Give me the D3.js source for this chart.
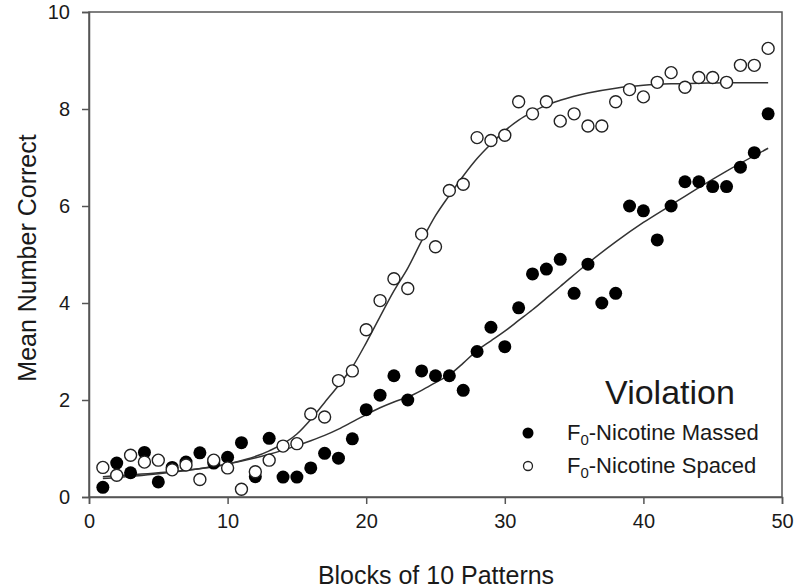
<!DOCTYPE html>
<html>
<head>
<meta charset="utf-8">
<script src="https://cdn.jsdelivr.net/npm/d3@7/dist/d3.min.js"></script>
<style>
  html, body { margin: 0; padding: 0; background: #fff; }
  svg { display: block; font-family: "Liberation Sans", Arial, sans-serif; }
</style>
</head>
<body>
<svg id="chart" width="800" height="588"></svg>
<script>
// ---- data ----
const blocks = d3.range(1, 50);
const massed = [0.2,0.7,0.5,0.92,0.31,0.61,0.72,0.91,0.7,0.82,1.12,0.42,1.21,0.41,0.41,0.6,0.9,0.8,1.2,
  1.8,2.1,2.5,2.0,2.6,2.5,2.5,2.2,3.0,3.5,3.1,3.9,4.6,4.7,4.9,4.2,4.8,4.0,4.2,6.0,5.9,5.3,6.0,6.5,6.5,6.4,6.4,6.8,7.1,7.9];
const spaced = [0.61,0.45,0.86,0.72,0.76,0.56,0.66,0.36,0.76,0.6,0.16,0.52,0.76,1.05,1.1,1.71,1.65,2.4,2.6,
  3.45,4.05,4.5,4.3,5.42,5.16,6.32,6.45,7.41,7.35,7.46,8.15,7.9,8.15,7.75,7.9,7.65,7.65,8.15,8.4,8.25,8.55,8.75,8.45,8.65,8.65,8.55,8.9,8.9,9.25];
// fitted curves
const fitX = [1,5,10,13,15,16,17,18,19,20,21,22,23,24,25,26,27,28,29,30,31,32,33,34,36,38,40,42,44,46,49];
const massedFit = [0.38,0.48,0.68,0.88,1.06,1.16,1.27,1.4,1.55,1.7,1.84,1.96,2.06,2.2,2.36,2.52,2.76,3.02,3.22,3.42,3.64,3.86,4.1,4.34,4.82,5.26,5.66,6.02,6.38,6.72,7.19];
const spacedFit = [0.42,0.5,0.68,0.95,1.3,1.6,1.95,2.3,2.68,3.18,3.72,4.25,4.72,5.28,5.8,6.22,6.62,6.98,7.28,7.55,7.77,7.94,8.08,8.18,8.33,8.43,8.49,8.52,8.53,8.54,8.54];
const xTicks = [0,10,20,30,40,50];
const yTicks = [0,2,4,6,8,10];
const legendItems = ["Massed", "Spaced"];

// ---- layout ----
const svg = d3.select("#chart");
const m = {left: 89, right: 782, top: 12, bottom: 497};
const x = d3.scaleLinear().domain([0, 50]).range([m.left, m.right]);
const y = d3.scaleLinear().domain([0, 10]).range([m.bottom, m.top]);
const axisColor = "#555";
const textColor = "#1a1a1a";

// frame
svg.append("rect")
  .attr("x", m.left).attr("y", m.top)
  .attr("width", m.right - m.left).attr("height", m.bottom - m.top)
  .attr("fill", "none").attr("stroke", axisColor).attr("stroke-width", 1.5);

// axes
const xAxis = svg.append("g").attr("transform", `translate(0,${m.bottom})`)
  .call(d3.axisBottom(x).tickValues(xTicks).tickSize(7).tickPadding(10));
const yAxis = svg.append("g").attr("transform", `translate(${m.left},0)`)
  .call(d3.axisLeft(y).tickValues(yTicks).tickSize(7).tickPadding(12));
[xAxis, yAxis].forEach(g => {
  g.select(".domain").attr("stroke", axisColor).attr("stroke-width", 1.5);
  g.selectAll(".tick line").attr("stroke", axisColor).attr("stroke-width", 1.5);
  g.selectAll(".tick text").attr("fill", textColor)
    .style("font-size", "20px").style("font-family", '"Liberation Sans", Arial, sans-serif');
});

// axis titles
svg.append("text").attr("x", 436).attr("y", 584).attr("text-anchor", "middle")
  .attr("fill", textColor).style("font-size", "25px").text("Blocks of 10 Patterns");
svg.append("text").attr("transform", "translate(36,258) rotate(-90)").attr("text-anchor", "middle")
  .attr("fill", textColor).style("font-size", "25px").text("Mean Number Correct");

// fit lines
const line = d3.line().x(d => x(d[0])).y(d => y(d[1])).curve(d3.curveMonotoneX);
[massedFit, spacedFit].forEach(fit => {
  svg.append("path").datum(fitX.map((v, i) => [v, fit[i]]))
    .attr("d", line).attr("fill", "none").attr("stroke", "#333").attr("stroke-width", 1.5);
});

// points
svg.append("g").selectAll("circle").data(blocks.map((b, i) => [b, massed[i]])).join("circle")
  .attr("cx", d => x(d[0])).attr("cy", d => y(d[1])).attr("r", 6.5).attr("fill", "#000");
svg.append("g").selectAll("circle").data(blocks.map((b, i) => [b, spaced[i]])).join("circle")
  .attr("cx", d => x(d[0])).attr("cy", d => y(d[1])).attr("r", 6).attr("fill", "#fff")
  .attr("stroke", "#222").attr("stroke-width", 1.4);

// legend
svg.append("text").attr("x", 670).attr("y", 404).attr("text-anchor", "middle")
  .attr("fill", textColor).style("font-size", "34px").text("Violation");
legendItems.forEach((name, i) => {
  const yy = 433 + i * 33;
  const c = svg.append("circle").attr("cx", 528).attr("cy", yy).attr("r", i === 0 ? 5.5 : 4.5);
  if (i === 0) c.attr("fill", "#000");
  else c.attr("fill", "#fff").attr("stroke", "#222").attr("stroke-width", 1.3);
  const t = svg.append("text").attr("x", 567).attr("y", yy + 7).attr("fill", textColor).style("font-size", "22px");
  t.append("tspan").text("F");
  t.append("tspan").attr("dy", 5).style("font-size", "15px").text("0");
  t.append("tspan").attr("dy", -5).text("-Nicotine " + name);
});
</script>
</body>
</html>
